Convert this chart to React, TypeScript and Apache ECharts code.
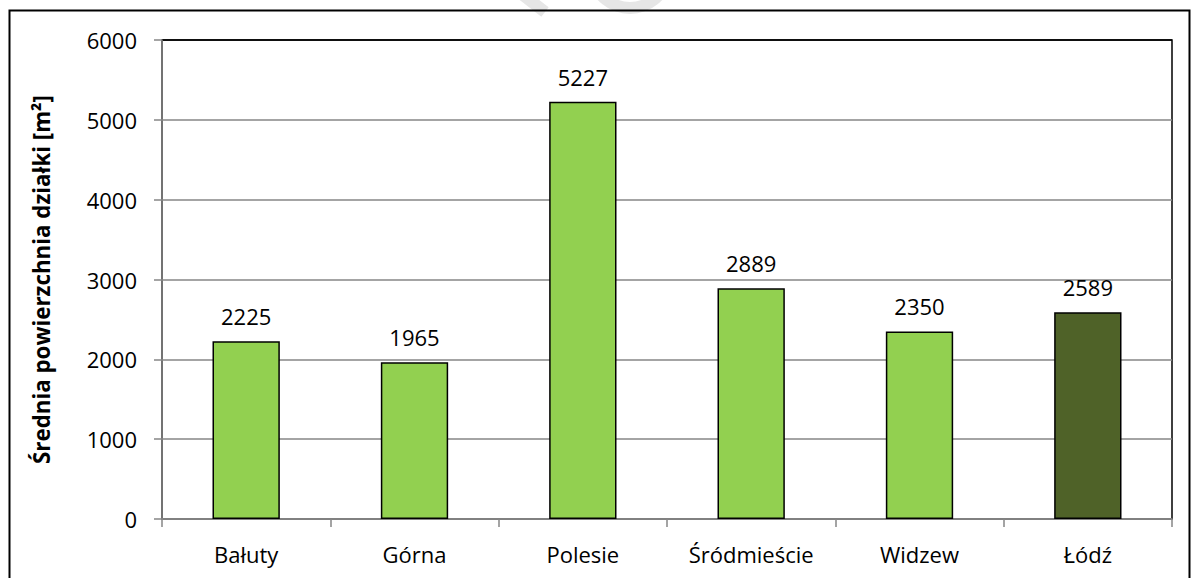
import React, { useEffect, useRef } from "react";
import * as echarts from "echarts";

const categories = ["Bałuty", "Górna", "Polesie", "Śródmieście", "Widzew", "Łódź"];
const values = [2225, 1965, 5227, 2889, 2350, 2589];
const barColors = ["#92D050", "#92D050", "#92D050", "#92D050", "#92D050", "#4F6228"];
const yTicks = { min: 0, max: 6000, interval: 1000 };
const yTitle = "Średnia powierzchnia działki [m²]";

const FONT = "'Open Sans', sans-serif";

export default function App() {
  const ref = useRef<HTMLDivElement>(null);
  useEffect(() => {
    if (!ref.current) return;
    const chart = echarts.init(ref.current, undefined, { renderer: "svg" });
    chart.setOption({
      animation: false,
      backgroundColor: "#fff",
      textStyle: { fontFamily: FONT },
      grid: {
        left: 162,
        right: 19,
        top: 40,
        bottom: 59,
        show: true,
        borderColor: "#000",
        borderWidth: 1.5,
        containLabel: false,
      },
      graphic: [
        {
          type: "line",
          z: -1,
          shape: { x1: 523, y1: -5, x2: 545, y2: 12 },
          style: { stroke: "#e6e6e6", lineWidth: 12 },
        },
        {
          type: "arc",
          z: -1,
          shape: { cx: 630, cy: -30, r: 38, startAngle: 0.2, endAngle: Math.PI - 0.2 },
          style: { stroke: "#e6e6e6", lineWidth: 12, fill: "none" },
        },
        {
          type: "rect",
          shape: { x: 9.5, y: 10.5, width: 1180, height: 600 },
          style: { stroke: "#000", lineWidth: 2, fill: "none" },
        },
      ],
      xAxis: {
        type: "category",
        data: categories,
        axisLine: { show: true, lineStyle: { color: "#868686", width: 1.5 } },
        axisTick: { show: true, length: 8, lineStyle: { color: "#868686", width: 1.5 } },
        axisLabel: { color: "#000", fontSize: 22, margin: 24, fontFamily: FONT },
        splitLine: { show: false },
      },
      yAxis: {
        type: "value",
        min: yTicks.min,
        max: yTicks.max,
        interval: yTicks.interval,
        name: yTitle,
        nameLocation: "middle",
        nameRotate: 90,
        nameGap: 110,
        nameTextStyle: { color: "#000", fontSize: 22.3, fontWeight: "bold", fontFamily: FONT },
        axisLine: { show: true, lineStyle: { color: "#868686", width: 1.5 } },
        axisTick: { show: true, length: 8, lineStyle: { color: "#868686", width: 1.5 } },
        axisLabel: {
          color: "#000",
          fontSize: 22,
          margin: 25,
          fontFamily: FONT,
          formatter: (v: number) => String(v),
        },
        splitLine: {
          show: true,
          lineStyle: {
            color: ["#868686", "#868686", "#868686", "#868686", "#868686", "#868686", "#000"],
            width: 1.5,
          },
        },
      },
      series: [
        {
          type: "bar",
          barWidth: "40%",
          data: values.map((v, i) => ({
            value: v,
            itemStyle: { color: barColors[i], borderColor: "#000", borderWidth: 1.5 },
          })),
          label: {
            show: true,
            position: "top",
            distance: 14,
            color: "#000",
            fontSize: 22,
            fontFamily: FONT,
          },
        },
      ],
    });
    return () => chart.dispose();
  }, []);
  return (
    <div
      ref={ref}
      style={{ position: "absolute", left: 0, top: 0, width: 1191, height: 578 }}
    />
  );
}
